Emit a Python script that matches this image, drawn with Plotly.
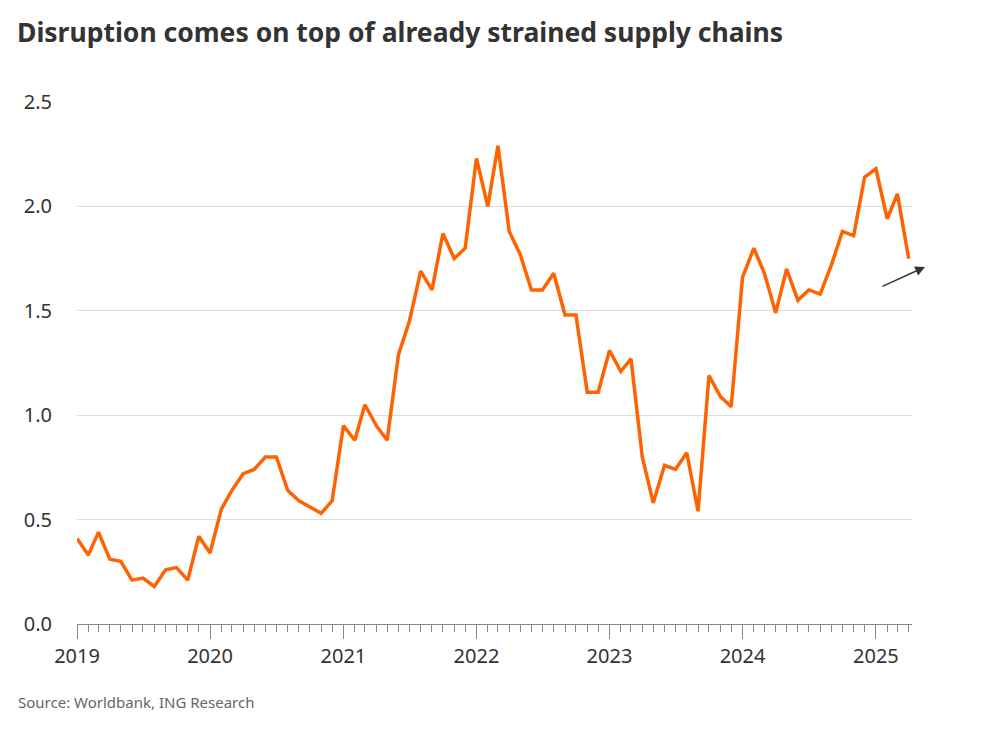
import plotly.graph_objects as go
import pandas as pd

dates = pd.date_range("2019-01-01", "2025-04-01", freq="MS")
values = [0.41,0.33,0.44,0.31,0.30,0.21,0.22,0.18,0.26,0.27,0.21,0.42,
          0.34,0.55,0.64,0.72,0.74,0.80,0.80,0.64,0.59,0.56,0.53,0.59,
          0.95,0.88,1.05,0.95,0.88,1.29,1.45,1.69,1.60,1.87,1.75,1.80,
          2.23,2.00,2.29,1.88,1.77,1.60,1.60,1.68,1.48,1.48,1.11,1.11,
          1.31,1.21,1.27,0.80,0.58,0.76,0.74,0.82,0.54,1.19,1.09,1.04,
          1.66,1.80,1.68,1.49,1.70,1.55,1.60,1.58,1.72,1.88,1.86,2.14,
          2.18,1.94,2.06,1.75]

fig = go.Figure(go.Scatter(x=dates, y=values, mode="lines",
                           line=dict(color="#FF6200", width=3.5), hoverinfo="skip"))
font = "Noto Sans"
fig.update_layout(
    width=985, height=733, margin=dict(l=69, r=81, t=94, b=117),
    plot_bgcolor="white", paper_bgcolor="white", showlegend=False,
    font=dict(family=font, color="#333"),
    title=dict(text="<b>Disruption comes on top of already strained supply chains</b>",
               x=9/985, xanchor="left", y=1-25/733, yanchor="middle",
               font=dict(size=26.5, color="#333", family=font)),
    xaxis=dict(range=[pd.Timestamp("2019-01-01"), pd.Timestamp("2025-04-10")],
               dtick="M12", tick0="2019-01-01", tickformat="%Y",
               ticks="outside", ticklen=14, tickcolor="#888", showgrid=False,
               showline=True, linecolor="#888", tickfont=dict(size=20, color="#333"),
               minor=dict(dtick="M1", ticks="outside", ticklen=7, tickcolor="#888", showgrid=False)),
    yaxis=dict(range=[0, 2.5], dtick=0.5, tickformat=".1f", showgrid=True,
               gridcolor="#DDDDDD", zeroline=False, ticks="", ticklabelstandoff=24,
               tickfont=dict(size=20, color="#333")),
)
fig.add_annotation(xref="paper", yref="paper", x=-0.063-8/835, y=-0.173, xanchor="left",
                   text="Source: Worldbank, ING Research", showarrow=False,
                   font=dict(size=15, color="#666"))
fig.add_annotation(xref="paper", yref="paper", x=(925-77)/835, y=(624-267)/522,
                   ax=-44, ay=20, axref="pixel", ayref="pixel", text="",
                   showarrow=True, arrowhead=2, arrowsize=1.3, arrowwidth=1.5, arrowcolor="#333")
fig.write_html("out.html")
